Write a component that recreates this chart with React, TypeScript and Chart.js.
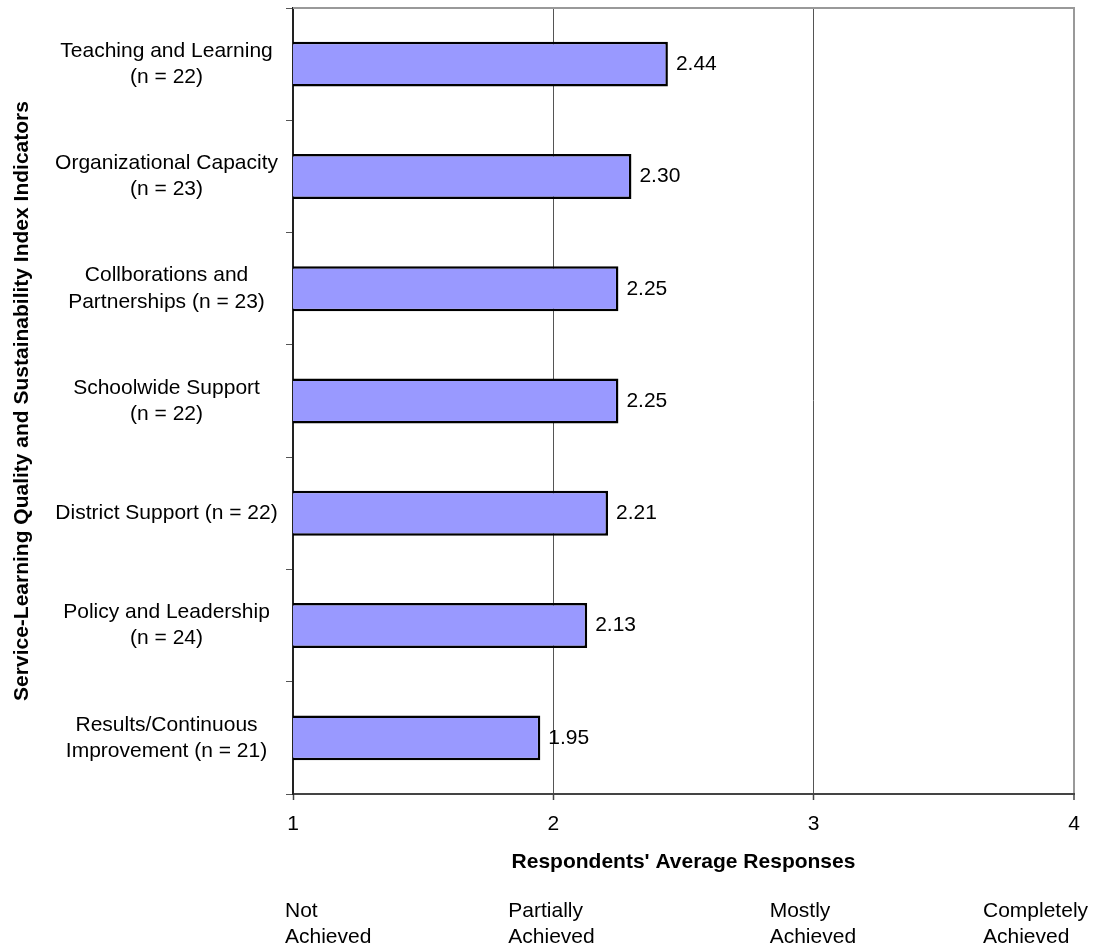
import { useEffect, useRef } from "react";
import { Chart, registerables } from "chart.js";

Chart.register(...registerables);

// Indicator names with respondent counts (multi-line category labels)
const indicators: string[][] = [
  ["Teaching and Learning", "(n = 22)"],
  ["Organizational Capacity", "(n = 23)"],
  ["Collborations and", "Partnerships (n = 23)"],
  ["Schoolwide Support", "(n = 22)"],
  ["District Support (n = 22)"],
  ["Policy and Leadership", "(n = 24)"],
  ["Results/Continuous", "Improvement (n = 21)"],
];

// Average response per indicator
const averages: number[] = [2.44, 2.3, 2.25, 2.25, 2.21, 2.13, 1.95];

// Rating scale shown under the axis
const scaleValues: number[] = [1, 2, 3, 4];
const ratingLabels: string[][] = [
  ["Not", "Achieved"],
  ["Partially", "Achieved"],
  ["Mostly", "Achieved"],
  ["Completely", "Achieved"],
];

const xTitle = "Respondents' Average Responses";
const yTitle = "Service-Learning Quality and Sustainability Index Indicators";

const FONT = 'Arial, "Liberation Sans", sans-serif';
const FONT_SIZE = 21;

// horizontal shift of each rating caption from its scale value
const RATING_SHIFT = [-8, -45, -44, -91];

const valueLabelPlugin = {
  id: "valueLabels",
  afterDatasetsDraw(chart: any) {
    const { ctx } = chart;
    const meta = chart.getDatasetMeta(0);
    ctx.save();
    ctx.font = `${FONT_SIZE}px ${FONT}`;
    ctx.fillStyle = "#000";
    ctx.textAlign = "left";
    ctx.textBaseline = "middle";
    meta.data.forEach((bar: any, i: number) => {
      ctx.fillText(averages[i].toFixed(2), bar.x + 8, bar.y);
    });
    ctx.restore();
  },
};

const framePlugin = {
  id: "frame",
  afterDraw(chart: any) {
    const { ctx, chartArea, scales } = chart;
    ctx.save();
    // top edge of the plot area
    ctx.strokeStyle = "#999999";
    ctx.lineWidth = 2;
    ctx.beginPath();
    ctx.moveTo(chartArea.left, chartArea.top);
    ctx.lineTo(chartArea.right + 1, chartArea.top);
    ctx.stroke();

    // rating captions
    ctx.font = `${FONT_SIZE}px ${FONT}`;
    ctx.fillStyle = "#000";
    ctx.textAlign = "left";
    ctx.textBaseline = "alphabetic";
    scaleValues.forEach((v, i) => {
      const x = scales.x.getPixelForValue(v) + RATING_SHIFT[i];
      ratingLabels[i].forEach((line, j) => {
        ctx.fillText(line, x, chartArea.bottom + 123 + j * 26);
      });
    });
    ctx.restore();
  },
};

export default function App() {
  const canvasRef = useRef<HTMLCanvasElement | null>(null);

  useEffect(() => {
    if (!canvasRef.current) return;
    const chart = new Chart(canvasRef.current, {
      type: "bar",
      data: {
        labels: indicators,
        datasets: [
          {
            data: averages,
            backgroundColor: "#9999FF",
            borderColor: "#000000",
            borderWidth: 2.5,
            borderSkipped: false,
            barPercentage: 0.4,
            categoryPercentage: 1,
          },
        ],
      },
      options: {
        indexAxis: "y",
        animation: false,
        responsive: true,
        maintainAspectRatio: false,
        layout: { padding: { top: 8, right: 19, bottom: 72, left: 0 } },
        plugins: {
          legend: { display: false },
          tooltip: { enabled: false },
        },
        scales: {
          x: {
            type: "linear",
            min: 1,
            max: 4,
            afterFit(scale: any) {
              scale.height = 81;
              scale.paddingLeft = 0;
              scale.paddingRight = 0;
            },
            ticks: {
              stepSize: 1,
              padding: 12,
              color: "#000",
              font: { family: FONT, size: FONT_SIZE, lineHeight: 1.2 },
            },
            grid: {
              color: (c: any) => (c.tick && c.tick.value === 4 ? "#999999" : "#555555"),
              lineWidth: (c: any) => (c.tick && c.tick.value === 4 ? 2 : 1),
              tickColor: "#444444",
              tickWidth: 1.5,
              tickLength: 6,
            },
            border: { display: true, color: "#444444", width: 2 },
            title: {
              display: true,
              text: xTitle,
              color: "#000",
              font: { family: FONT, size: FONT_SIZE, weight: "bold", lineHeight: 1.2 },
              padding: { top: 12, bottom: 0 },
            },
          },
          y: {
            type: "category",
            afterFit(scale: any) {
              scale.width = 293;
              scale.paddingTop = 0;
              scale.paddingBottom = 0;
            },
            ticks: {
              crossAlign: "center",
              padding: 8,
              color: "#000",
              autoSkip: false,
              font: { family: FONT, size: FONT_SIZE, lineHeight: 1.25 },
            },
            grid: {
              drawOnChartArea: false,
              drawTicks: true,
              tickLength: 7,
              tickColor: "#555555",
              tickWidth: 1,
              offset: true,
            },
            border: { display: true, color: "#222222", width: 2 },
            title: {
              display: true,
              text: yTitle,
              color: "#000",
              font: { family: FONT, size: FONT_SIZE, weight: "bold", lineHeight: 1.2 },
              padding: { top: 10, bottom: 0 },
            },
          },
        },
      } as any,
      plugins: [valueLabelPlugin, framePlugin],
    });
    return () => chart.destroy();
  }, []);

  return (
    <div style={{ position: "absolute", left: 0, top: 0, width: 1093, height: 947, background: "#fff" }}>
      <canvas ref={canvasRef} />
    </div>
  );
}
